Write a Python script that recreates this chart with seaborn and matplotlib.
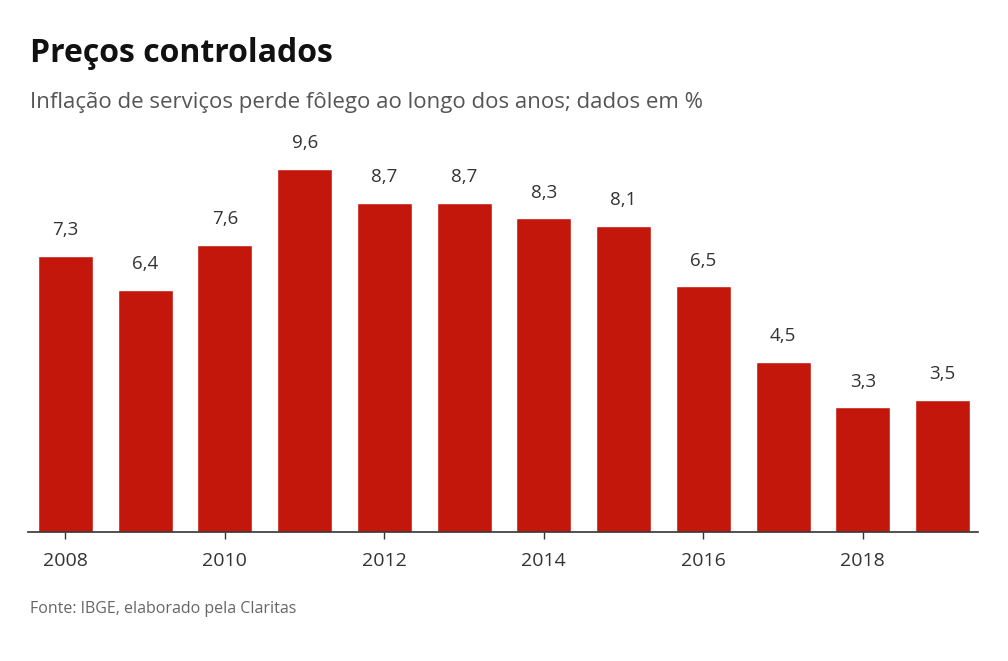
import matplotlib
matplotlib.use("Agg")
import matplotlib.pyplot as plt
import seaborn as sns
import pandas as pd

years = [2008, 2009, 2010, 2011, 2012, 2013, 2014, 2015, 2016, 2017, 2018, 2019]
values = [7.3, 6.4, 7.6, 9.6, 8.7, 8.7, 8.3, 8.1, 6.5, 4.5, 3.3, 3.5]
tick_years = [2008, 2010, 2012, 2014, 2016, 2018]

title = "Preços controlados"
subtitle = "Inflação de serviços perde fôlego ao longo dos anos; dados em %"
source = "Fonte: IBGE, elaborado pela Claritas"

sns.set_theme(style="white")
plt.rcParams["font.family"] = ["Open Sans", "DejaVu Sans"]

df = pd.DataFrame({"ano": [str(y) for y in years], "valor": values})

W, H = 1008, 661
fig = plt.figure(figsize=(W / 100, H / 100), dpi=100)
ax_left, ax_right = 28 / W, 978 / W
ax_bottom, ax_top = (H - 532) / H, (H - 140) / H
ax = fig.add_axes([ax_left, ax_bottom, ax_right - ax_left, ax_top - ax_bottom])

sns.barplot(data=df, x="ano", y="valor", color="#c4170c", width=0.69,
            saturation=1, ax=ax)

ax.set_xlim(-0.47, 11.445)
ax.set_ylim(0, (532 - 140) / 37.8)

for i, v in enumerate(values):
    ax.annotate(f"{v:.1f}".replace(".", ","), (i, v), xytext=(0, 12),
                textcoords="offset points", ha="center", va="bottom",
                fontsize=13.5, color="#333333")

ticks = [years.index(y) for y in tick_years]
ax.set_xticks(ticks)
ax.set_xticklabels([str(y) for y in tick_years], fontsize=14, color="#333333")
ax.tick_params(axis="x", length=5, width=1, color="#333333", pad=9.5, bottom=True)
ax.set_yticks([])
ax.set_xlabel("")
ax.set_ylabel("")
for s in ["top", "right", "left"]:
    ax.spines[s].set_visible(False)
ax.spines["bottom"].set_color("#333333")
ax.spines["bottom"].set_linewidth(1.2)

fig.text(30 / W, 1 - 62 / H, title, fontsize=23, fontweight="bold",
         color="#111111", va="baseline", ha="left")
fig.text(30 / W, 1 - 108 / H, subtitle, fontsize=16, color="#555555",
         va="baseline", ha="left")
fig.text(30 / W, 1 - 613 / H, source, fontsize=11.5, color="#666666",
         va="baseline", ha="left")

fig.savefig("out.png", dpi=100)
